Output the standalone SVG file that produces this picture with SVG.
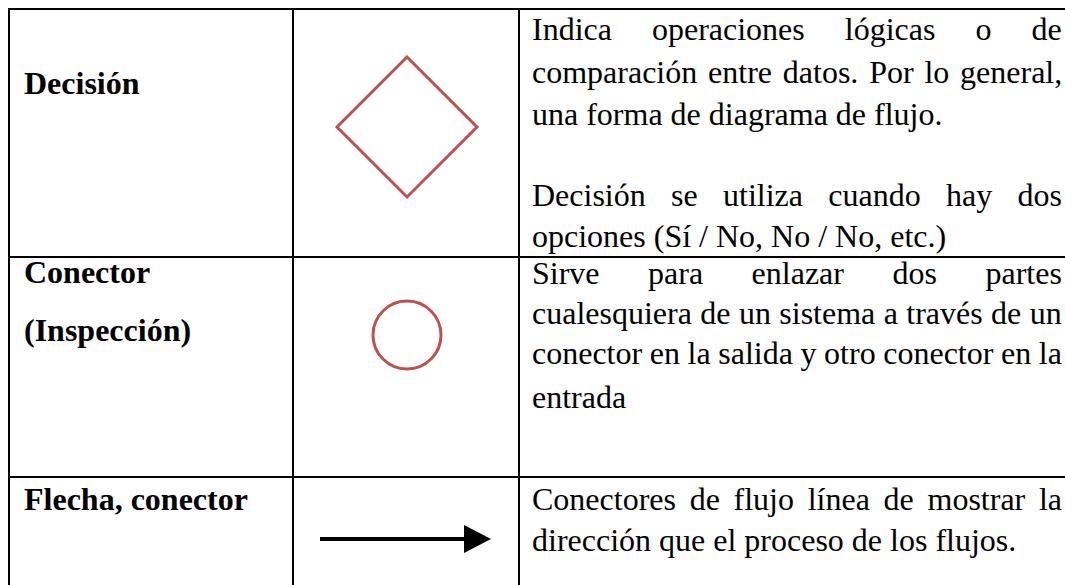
<svg xmlns="http://www.w3.org/2000/svg" width="1065" height="585" viewBox="0 0 1065 585">
<style>
.grid{stroke:#000;stroke-width:2;fill:none}
.hd{font-family:"Liberation Serif","Times New Roman",serif;font-size:32px;font-weight:bold;fill:#000}
.tx{font-family:"Liberation Serif","Times New Roman",serif;font-size:32px;fill:#000}
.sym{fill:none;stroke:#c0504d;stroke-width:3}
</style>
<rect width="1065" height="585" fill="#fff"/>
<g id="table">
<line class="grid" x1="9" y1="9" x2="1065" y2="9"/>
<line class="grid" x1="9" y1="257" x2="1065" y2="257"/>
<line class="grid" x1="9" y1="477" x2="1065" y2="477"/>
<line class="grid" x1="9" y1="8" x2="9" y2="585"/>
<line class="grid" x1="293" y1="8" x2="293" y2="585"/>
<line class="grid" x1="519" y1="8" x2="519" y2="585"/>
</g>
<g id="row-decision">
<text class="hd" x="24" y="94">Decisión</text>
<polygon class="sym" points="407,57 477,127 407,197 337,127"/>
<text class="tx" x="532" y="40" word-spacing="32">Indica operaciones lógicas o de</text>
<text class="tx" x="532" y="83" word-spacing="2.8">comparación entre datos. Por lo general,</text>
<text class="tx" x="532" y="125">una forma de diagrama de flujo.</text>
<text class="tx" x="532" y="206" word-spacing="17.3">Decisión se utiliza cuando hay dos</text>
<text class="tx" x="532" y="247">opciones (Sí / No, No / No, etc.)</text>
</g>
<g id="row-conector">
<text class="hd" x="24" y="283">Conector</text>
<text class="hd" x="24" y="341">(Inspección)</text>
<circle class="sym" cx="407" cy="335" r="34"/>
<text class="tx" x="532" y="284" word-spacing="40.5">Sirve para enlazar dos partes</text>
<text class="tx" x="532" y="324" word-spacing="0.4">cualesquiera de un sistema a través de un</text>
<text class="tx" x="532" y="364" word-spacing="-0.4">conector en la salida y otro conector en la</text>
<text class="tx" x="532" y="408">entrada</text>
</g>
<g id="row-flecha">
<text class="hd" x="24" y="510">Flecha, conector</text>
<text class="tx" x="532" y="510" word-spacing="5.7">Conectores de flujo línea de mostrar la</text>
<text class="tx" x="532" y="551">dirección que el proceso de los flujos.</text>
</g>
<g id="connectors">
<line x1="320" y1="539" x2="466" y2="539" stroke="#000" stroke-width="4"/>
<polygon points="464,525 491,539 464,553" fill="#000"/>
</g>
</svg>
